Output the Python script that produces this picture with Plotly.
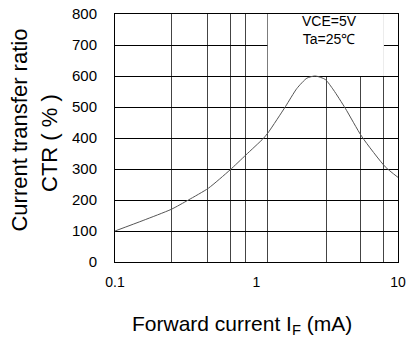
import math
import plotly.graph_objects as go

# Data
if_ma = [0.1, 0.158, 0.25, 0.33, 0.457, 0.65, 0.84, 1.12, 1.22, 1.6, 1.93, 2.27, 2.6, 3.06, 3.5, 4.24, 5.56, 8.13, 10]
ctr = [100, 134, 170, 200, 238, 297, 345, 399, 420, 501, 560, 593, 600, 589, 555, 496, 404, 307, 273]

x_ticks = [0.1, 1, 10]
x_ticktext = ["0.1", "1", "10"]
x_grid = [0.25, 0.45, 0.65, 0.84, 1.2, 3.1, 5.4, 7.95]
y_ticks = [0, 100, 200, 300, 400, 500, 600, 700, 800]

FONT = "Arial, Liberation Sans, sans-serif"

fig = go.Figure()
fig.add_trace(go.Scatter(x=if_ma, y=ctr, mode="lines",
                         line=dict(color="#555555", width=1, shape="spline", smoothing=0.6),
                         hoverinfo="skip"))

fig.update_layout(
    width=406, height=345,
    margin=dict(l=115, r=8, t=14, b=83),
    paper_bgcolor="white", plot_bgcolor="white",
    showlegend=False,
    font=dict(family=FONT, color="black"),
)
fig.update_xaxes(
    type="log", range=[-1, 1], automargin=False,
    tickvals=x_ticks, ticktext=x_ticktext,
    showgrid=False, zeroline=False,
    showline=True, mirror=True, linecolor="black", linewidth=1,
    ticks="", ticklabelstandoff=7,
    tickfont=dict(size=14, family=FONT, color="black"),
    minor=dict(tickvals=x_grid, showgrid=True, gridcolor="#444444", gridwidth=1, ticks=""),
)
fig.update_yaxes(
    range=[0, 800], tickvals=y_ticks, automargin=False,
    showgrid=True, gridcolor="black", gridwidth=1, zeroline=False,
    showline=True, mirror=True, linecolor="black", linewidth=1,
    ticks="", ticklabelstandoff=14,
    tickfont=dict(size=15, family=FONT, color="black"),
)

# white box for condition label
fig.add_shape(type="rect", xref="x", yref="y", x0=1.2, x1=7.95, y0=600, y1=800,
              fillcolor="white", line=dict(color="white", width=0), layer="between")
fig.add_annotation(x=math.log10(3.3), y=748, xref="x", yref="y", text="VCE=5V<br>Ta=25℃", showarrow=False,
                   font=dict(size=14, family=FONT, color="black"), align="center")

fig.add_annotation(xref="paper", yref="paper", x=0, y=0.53, xshift=-95, textangle=-90,
                   text="Current transfer ratio", showarrow=False, xanchor="center", yanchor="middle",
                   font=dict(size=22, family=FONT, color="black"))
fig.add_annotation(xref="paper", yref="paper", x=0, y=0.48, xshift=-65, textangle=-90,
                   text="CTR ( % )", showarrow=False, xanchor="center", yanchor="middle",
                   font=dict(size=22, family=FONT, color="black"))
fig.add_annotation(xref="paper", yref="paper", x=0.449, y=-0.254, yanchor="middle",
                   text="Forward current I<sub>F</sub> (mA)", showarrow=False,
                   font=dict(size=21, family=FONT, color="black"))

fig.write_html("out.html", config={"displayModeBar": False},
               post_script="document.body.style.margin='0';document.body.style.overflow='hidden';")
